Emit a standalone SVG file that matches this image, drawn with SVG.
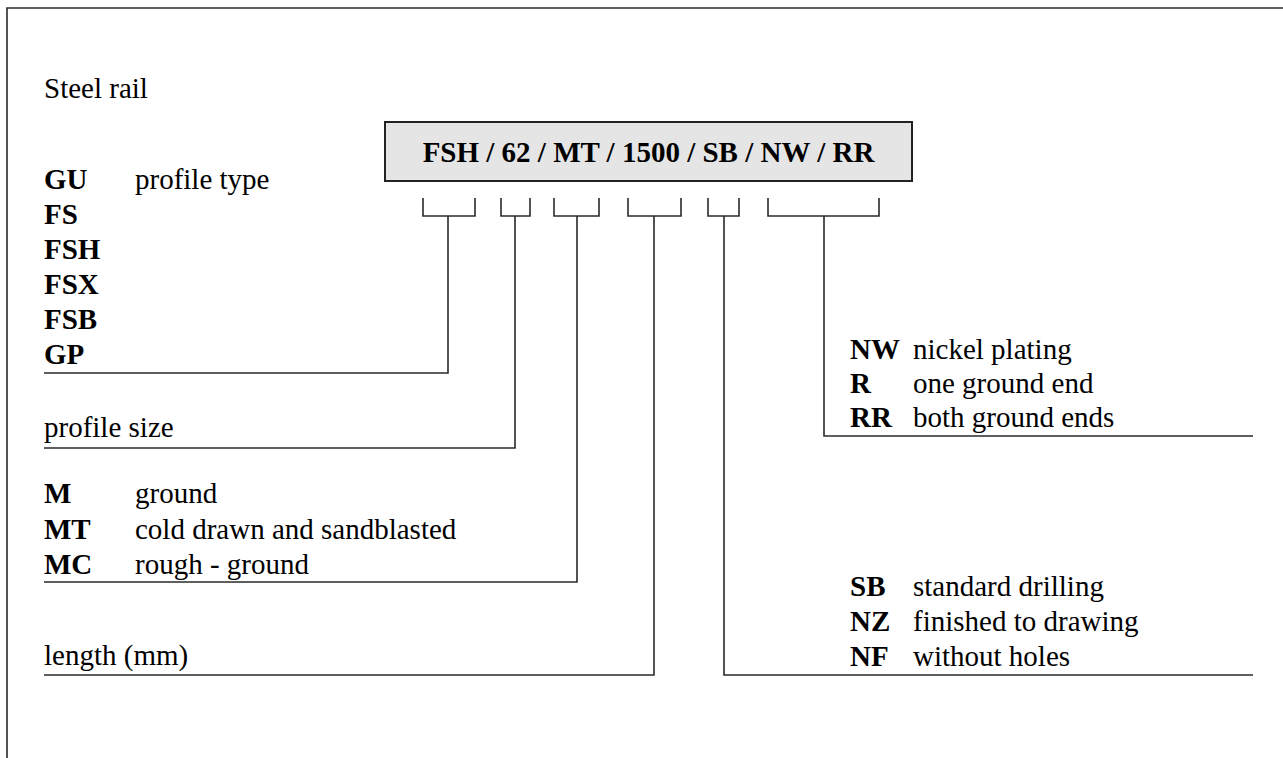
<svg xmlns="http://www.w3.org/2000/svg" width="1283" height="758" viewBox="0 0 1283 758">
<style>
  .t { font-family: "Liberation Serif", "Times New Roman", serif; font-size: 29px; fill: #000; }
  .b { font-weight: bold; }
  .ln { fill: none; stroke: #2a2a2a; stroke-width: 1.6; }
</style>
<rect x="0" y="0" width="1283" height="758" fill="#fff"/>
<g id="frame">
  <path class="ln" d="M7,770 V8 H1290"/>
</g>
<g id="title"><text class="t" x="44" y="98">Steel rail</text></g>
<g id="code-box">
  <rect x="385" y="122" width="527" height="59" fill="#e5e5e5" stroke="#222" stroke-width="2"/>
  <text class="t b" x="648.5" y="161.5" text-anchor="middle">FSH / 62 / MT / 1500 / SB / NW / RR</text>
</g>
<g id="connectors">
  <path class="ln" d="M423,198 V216 H475 V198 M448,216 V373 H44"/>
  <path class="ln" d="M501,198 V216 H530 V198 M515,216 V448 H44"/>
  <path class="ln" d="M554,198 V216 H599 V198 M577,216 V582 H44"/>
  <path class="ln" d="M628,198 V216 H681 V198 M654,216 V675 H44"/>
  <path class="ln" d="M708,198 V216 H739 V198 M724,216 V675 H1253"/>
  <path class="ln" d="M768,198 V216 H879 V198 M824,216 V436 H1253"/>
</g>
<g id="profile-type">
  <text class="t b" x="44" y="189">GU</text>
  <text class="t" x="135" y="189">profile type</text>
  <text class="t b" x="44" y="224">FS</text>
  <text class="t b" x="44" y="259">FSH</text>
  <text class="t b" x="44" y="294">FSX</text>
  <text class="t b" x="44" y="329">FSB</text>
  <text class="t b" x="44" y="364">GP</text>
</g>
<g id="profile-size">
  <text class="t" x="44" y="437">profile size</text>
</g>
<g id="finish">
  <text class="t b" x="44" y="503">M</text>
  <text class="t" x="135" y="503">ground</text>
  <text class="t b" x="44" y="539">MT</text>
  <text class="t" x="135" y="539">cold drawn and sandblasted</text>
  <text class="t b" x="44" y="574">MC</text>
  <text class="t" x="135" y="574">rough - ground</text>
</g>
<g id="length">
  <text class="t" x="44" y="665">length (mm)</text>
</g>
<g id="ends">
  <text class="t b" x="850" y="359">NW</text>
  <text class="t" x="913" y="359">nickel plating</text>
  <text class="t b" x="850" y="393">R</text>
  <text class="t" x="913" y="393">one ground end</text>
  <text class="t b" x="850" y="427">RR</text>
  <text class="t" x="913" y="427">both ground ends</text>
</g>
<g id="drilling">
  <text class="t b" x="850" y="596">SB</text>
  <text class="t" x="913" y="596">standard drilling</text>
  <text class="t b" x="850" y="631">NZ</text>
  <text class="t" x="913" y="631">finished to drawing</text>
  <text class="t b" x="850" y="666">NF</text>
  <text class="t" x="913" y="666">without holes</text>
</g>
</svg>
